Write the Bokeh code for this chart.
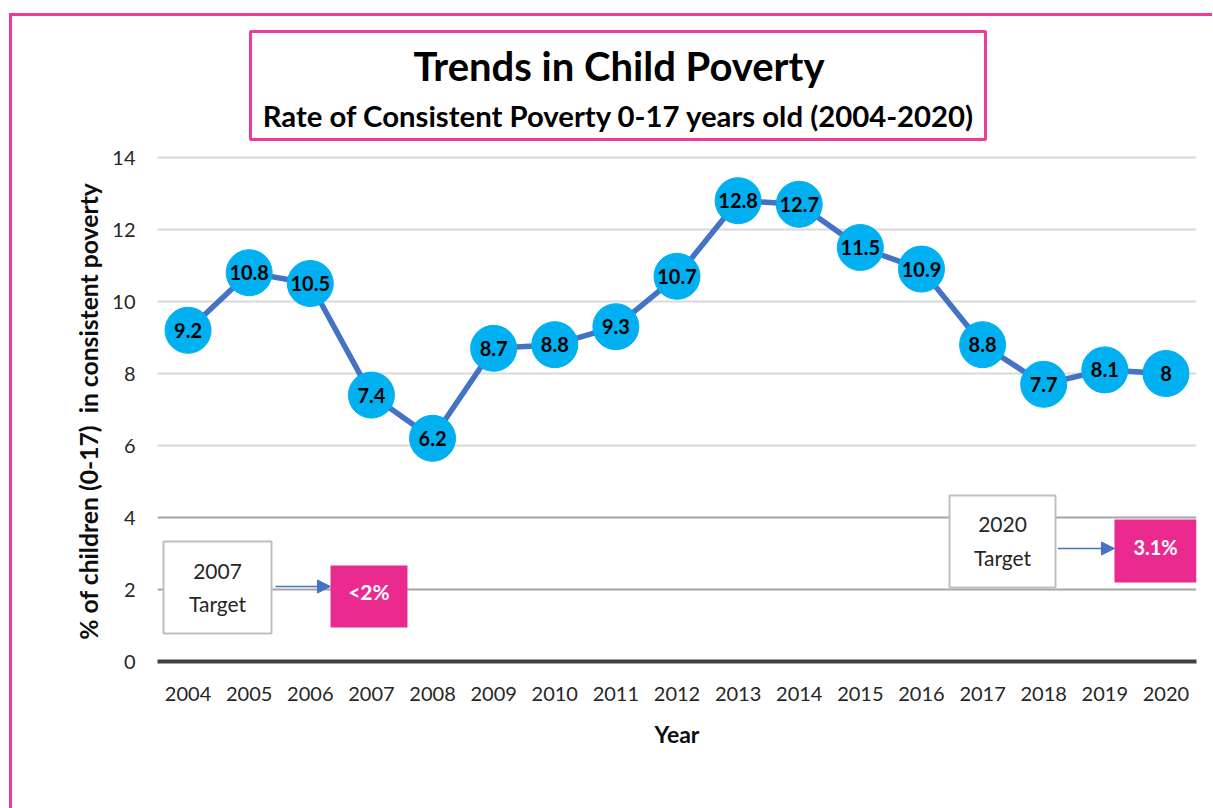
from bokeh.plotting import figure
from bokeh.models import (Range1d, FixedTicker, Grid, Arrow, NormalHead,
                          InlineStyleSheet)
from bokeh.core.properties import value
from bokeh.embed import file_html
from bokeh.resources import INLINE

# ---- data ----
years = [2004, 2005, 2006, 2007, 2008, 2009, 2010, 2011, 2012,
         2013, 2014, 2015, 2016, 2017, 2018, 2019, 2020]
rates = [9.2, 10.8, 10.5, 7.4, 6.2, 8.7, 8.8, 9.3, 10.7,
         12.8, 12.7, 11.5, 10.9, 8.8, 7.7, 8.1, 8.0]
rate_labels = ["9.2", "10.8", "10.5", "7.4", "6.2", "8.7", "8.8", "9.3", "10.7",
               "12.8", "12.7", "11.5", "10.9", "8.8", "7.7", "8.1", "8"]
y_ticks = [0, 2, 4, 6, 8, 10, 12, 14]
title_text = "Trends in Child Poverty"
subtitle_text = "Rate of Consistent Poverty 0-17 years old (2004-2020)"
y_label = "% of children (0-17)\u00a0 in consistent poverty"
x_label = "Year"
target_years = ["2007", "2020"]
target_values = ["<2%", "3.1%"]

# ---- style ----
FONT = "Lato"
PINK = "#EE3A98"
PINK_FILL = "#EA2A8E"
LINE_BLUE = "#4472C4"
DOT_BLUE = "#00B0F0"

W, H = 1205, 800
PX = 36.0  # pixels per y unit

p = figure(width=W, height=H, output_backend="svg", toolbar_location=None,
           x_range=Range1d(2003.5, 2020.5), y_range=Range1d(0, 661 / PX),
           min_border_left=157, min_border_right=9, min_border_top=0,
           min_border_bottom=139, outline_line_color=None,
           background_fill_color="white", border_fill_color="white")

# outer pink frame (page decoration)
p.stylesheets = [InlineStyleSheet(css=(
    ":host::after { content: ''; position: absolute; left: 9px; top: 13px; "
    "width: 1200px; height: 792px; border-left: 3px solid " + PINK + "; "
    "border-top: 3px solid " + PINK + "; pointer-events: none; z-index: 10; }"))]

# axes
yax = p.yaxis[0]
yax.ticker = FixedTicker(ticks=y_ticks)
yax.axis_line_color = None
yax.major_tick_line_color = None
yax.major_tick_out = 0
yax.major_tick_in = 0
yax.minor_tick_line_color = None
yax.minor_tick_out = 0
yax.major_label_standoff = 22
yax.major_label_text_font = FONT
yax.major_label_text_font_size = "20px"
yax.major_label_text_color = "#262626"
# trailing em/en spaces centre the label on the 0-14 part of the axis
yax.axis_label = y_label + "\u2003" * 8 + "\u2002"
yax.axis_label_text_font = FONT
yax.axis_label_text_font_style = "bold"
yax.axis_label_text_font_size = "24.7px"
yax.axis_label_text_color = "#0d0d0d"
yax.axis_label_standoff = 6

xax = p.xaxis[0]
xax.ticker = FixedTicker(ticks=years)
xax.major_label_overrides = {y: str(y) for y in years}
xax.axis_line_color = "#404040"
xax.axis_line_width = 4
xax.major_tick_line_color = None
xax.major_tick_out = 0
xax.major_tick_in = 0
xax.minor_tick_line_color = None
xax.minor_tick_out = 0
xax.major_label_standoff = 25
xax.major_label_text_font = FONT
xax.major_label_text_font_size = "20px"
xax.major_label_text_color = "#262626"
xax.axis_label = x_label
xax.axis_label_text_font = FONT
xax.axis_label_text_font_style = "bold"
xax.axis_label_text_font_size = "23px"
xax.axis_label_text_color = "#0d0d0d"
xax.axis_label_standoff = 16

# grids
p.xgrid.visible = False
p.ygrid.ticker = FixedTicker(ticks=[6, 8, 10, 12, 14])
p.ygrid.grid_line_color = "#d9d9d9"
p.ygrid.grid_line_width = 2
p.add_layout(Grid(dimension=1, ticker=FixedTicker(ticks=[2, 4]),
                  grid_line_color="#a6a6a6", grid_line_width=2))

# title box
p.quad(left=[2005.022], right=[2017.048], top=[17.5], bottom=[14.5],
       fill_color="white", line_color=PINK, line_width=3)
p.text(x=[2011.05], y=[16.53], text=[title_text], text_font=value(FONT),
       text_font_style="bold", text_font_size="40px", text_color="black",
       text_align="center", text_baseline="middle")
p.text(x=[2011.05], y=[15.17], text=[subtitle_text], text_font=value(FONT),
       text_font_style="bold", text_font_size="29.3px", text_color="black",
       text_align="center", text_baseline="middle")

# series
p.line(years, rates, line_color=LINE_BLUE, line_width=5.5)
p.scatter(years, rates, size=46, fill_color=DOT_BLUE, line_color=DOT_BLUE)
p.text(years, rates, text=rate_labels, text_font=value(FONT),
       text_font_style="bold", text_font_size="20px", text_color="black",
       text_align="center", text_baseline="middle")

# target annotations
# 2007 target
p.quad(left=[2003.598], right=[2005.365], top=[3.333], bottom=[0.778],
       fill_color="white", line_color="#bfbfbf", line_width=2)
p.text(x=[2004.482, 2004.482], y=[2.5, 1.611],
       text=[target_years[0], "Target"], text_font=value(FONT),
       text_font_size="21px", text_color="#262626",
       text_align="center", text_baseline="middle")
p.quad(left=[2006.331], right=[2007.590], top=[2.667], bottom=[0.944],
       fill_color=PINK_FILL, line_color=None)
p.text(x=[2006.96], y=[1.944], text=[target_values[0]], text_font=value(FONT),
       text_font_style="bold", text_font_size="21px", text_color="white",
       text_align="center", text_baseline="middle")
p.add_layout(Arrow(x_start=2005.43, y_start=2.083, x_end=2006.33, y_end=2.083,
                   line_color=LINE_BLUE, line_width=1.5,
                   end=NormalHead(size=13, fill_color=LINE_BLUE, line_color=LINE_BLUE)))

# 2020 target
p.quad(left=[2016.459], right=[2018.193], top=[4.611], bottom=[2.056],
       fill_color="white", line_color="#bfbfbf", line_width=2)
p.text(x=[2017.326, 2017.326], y=[3.806, 2.889],
       text=[target_years[1], "Target"], text_font=value(FONT),
       text_font_size="21px", text_color="#262626",
       text_align="center", text_baseline="middle")
p.quad(left=[2019.158], right=[2020.5], top=[3.944], bottom=[2.194],
       fill_color=PINK_FILL, line_color=None)
p.text(x=[2019.83], y=[3.194], text=[target_values[1]], text_font=value(FONT),
       text_font_style="bold", text_font_size="20px", text_color="white",
       text_align="center", text_baseline="middle")
p.add_layout(Arrow(x_start=2018.23, y_start=3.139, x_end=2019.158, y_end=3.139,
                   line_color=LINE_BLUE, line_width=1.5,
                   end=NormalHead(size=13, fill_color=LINE_BLUE, line_color=LINE_BLUE)))

open("out.html", "w").write(file_html(p, INLINE))
